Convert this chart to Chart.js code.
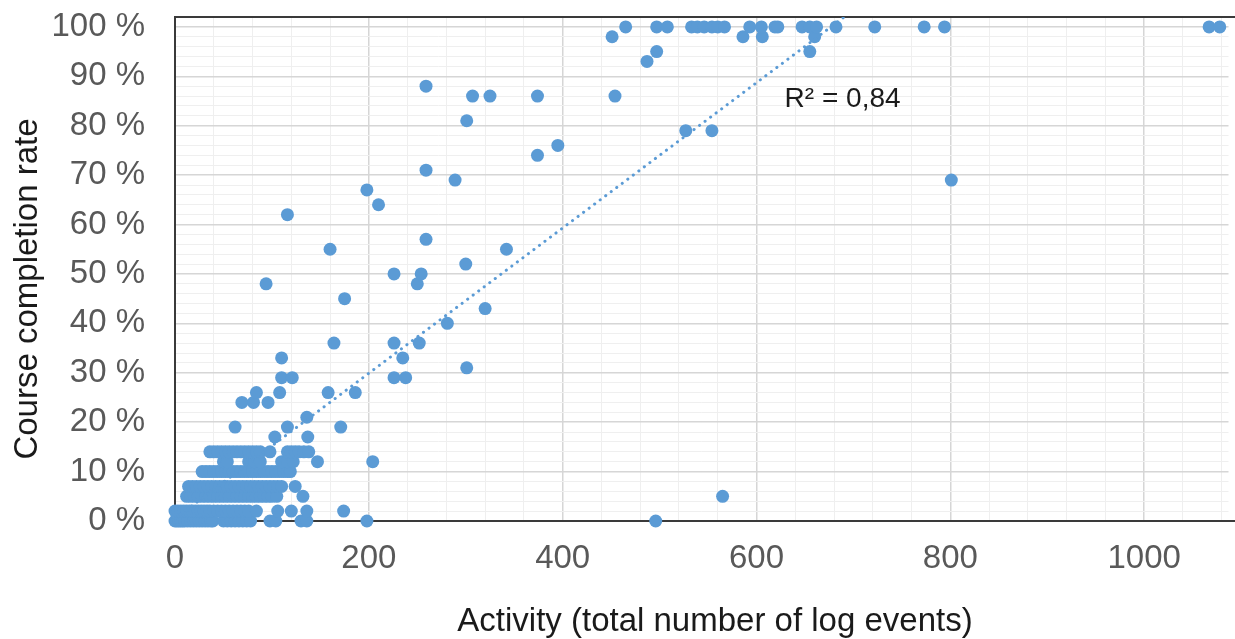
<!DOCTYPE html>
<html>
<head>
<meta charset="utf-8">
<script src="https://cdn.jsdelivr.net/npm/chart.js@4.4.1/dist/chart.umd.min.js"></script>
<style>
  html, body { margin: 0; padding: 0; background: #fff; }
  #wrap { width: 1235px; height: 639px; position: relative; }
</style>
</head>
<body>
<div id="wrap"><canvas id="chart"></canvas></div>
<script>
// completion rate (%) levels and the activity values seen on each level
const completionLevels = [0, 2, 5, 7, 10, 12, 14, 17, 19, 21, 24, 26, 29, 31, 33, 36, 40, 43, 45, 48, 50, 52, 55, 57, 62, 64, 67, 69, 71, 74, 76, 79, 81, 86, 88, 93, 95, 98, 100];
const activityAtLevel = [
    [0, 2, 4, 6, 8, 10, 13, 16, 19, 22, 25, 28, 31, 34, 37, 39, 50, 54, 58, 62, 66, 70, 74, 78, 98, 104, 130, 136, 198, 496],
    [0, 3, 6, 9, 12, 15, 18, 21, 24, 27, 30, 33, 36, 40, 44, 48, 52, 56, 60, 64, 68, 72, 76, 84, 106, 120, 136, 174],
    [12, 16, 20, 24, 28, 32, 36, 40, 44, 48, 52, 56, 60, 64, 68, 72, 76, 80, 84, 88, 92, 96, 100, 105, 132, 565],
    [14, 18, 22, 26, 30, 34, 38, 42, 46, 50, 54, 58, 62, 66, 70, 74, 78, 82, 86, 90, 94, 98, 102, 106, 110, 124],
    [28, 32, 36, 40, 44, 48, 52, 56, 60, 64, 68, 72, 76, 80, 84, 88, 92, 96, 100, 104, 108, 112, 116, 119],
    [50, 54, 76, 82, 88, 110, 116, 122, 147, 204],
    [36, 40, 44, 48, 52, 56, 60, 64, 68, 72, 76, 80, 84, 88, 98, 116, 120, 124, 128, 133, 138],
    [103, 137],
    [62, 116, 171],
    [136],
    [69, 81, 96],
    [84, 108, 158, 186],
    [110, 121, 226, 238],
    [301],
    [110, 235],
    [164, 226, 252],
    [281],
    [320],
    [175],
    [94, 250],
    [226, 254],
    [300],
    [160, 342],
    [259],
    [116],
    [210],
    [198],
    [289, 801],
    [259],
    [374],
    [395],
    [527, 554],
    [301],
    [307, 325, 374, 454],
    [259],
    [487],
    [497, 655],
    [451, 586, 606, 660],
    [465, 497, 508, 533, 539, 546, 554, 560, 567, 593, 605, 619, 622, 647, 655, 662, 682, 722, 773, 794, 1067, 1078]
];

// linear trendline
const trendIntercept = 0.5;
const trendSlope = 0.147;
const r2Text = 'R² = 0,84';

const xMin = 0, xMax = 1087, xMinorStep = 40, xLabelStep = 200;
const yMin = 0, yMax = 102, yMinorStep = 2, yLabelStep = 10;

const xTitle = 'Activity (total number of log events)';
const yTitle = 'Course completion rate';

const blue = '#5B9BD5';
const fontFamily = "'Liberation Sans', Arial, sans-serif";

const points = [];
completionLevels.forEach((level, i) => {
    activityAtLevel[i].forEach(x => points.push({ x, y: level }));
});

const trendEnd = (yMax - trendIntercept) / trendSlope;
const trendPoints = [0, trendEnd].map(x => ({ x, y: trendIntercept + trendSlope * x }));

function gridValues(min, max, step) {
    const vals = [];
    for (let v = min; v <= max; v += step) vals.push(v);
    return vals;
}

const frameAndText = {
    id: 'frameAndText',
    beforeDatasetsDraw(chart) {
        const { ctx, chartArea: a } = chart;
        ctx.save();
        ctx.strokeStyle = '#3a3a3a';
        ctx.lineWidth = 2;
        ctx.beginPath();
        ctx.moveTo(a.right + 8, a.top);
        ctx.lineTo(a.left, a.top);
        ctx.lineTo(a.left, a.bottom);
        ctx.lineTo(a.right + 8, a.bottom);
        ctx.stroke();
        ctx.restore();
    },
    afterDraw(chart) {
        const { ctx, scales } = chart;
        ctx.save();
        ctx.fillStyle = '#1a1a1a';
        ctx.font = `28px ${fontFamily}`;
        ctx.textAlign = 'left';
        ctx.textBaseline = 'middle';
        ctx.fillText(r2Text, scales.x.getPixelForValue(629), scales.y.getPixelForValue(85.4));

        ctx.font = `33px ${fontFamily}`;
        ctx.textAlign = 'center';
        ctx.fillText(xTitle, 715, 622);
        ctx.translate(28, 289);
        ctx.rotate(-Math.PI / 2);
        ctx.fillText(yTitle, 0, 0);
        ctx.restore();
    }
};

new Chart(document.getElementById('chart'), {
    type: 'scatter',
    data: {
        datasets: [
            {
                label: 'Trend',
                type: 'line',
                data: trendPoints,
                borderColor: blue,
                borderWidth: 3,
                borderDash: [0.1, 6.8],
                borderCapStyle: 'round',
                pointRadius: 0,
                fill: false,
                order: 0
            },
            {
                label: 'Courses',
                data: points,
                backgroundColor: blue,
                borderWidth: 0,
                pointRadius: 6.5,
                pointHoverRadius: 6.5,
                clip: false,
                order: 1
            }
        ]
    },
    options: {
        responsive: true,
        maintainAspectRatio: false,
        animation: false,
        layout: { padding: { top: 17, right: 0, bottom: 0, left: 0 } },
        plugins: { legend: { display: false }, tooltip: { enabled: false } },
        scales: {
            x: {
                type: 'linear',
                min: xMin,
                max: xMax,
                afterBuildTicks: axis => { axis.ticks = gridValues(xMin, 1080, xMinorStep).map(v => ({ value: v })); },
                afterFit: axis => {
                    axis.height = 118;
                    axis.paddingLeft = 0;
                    axis.paddingRight = 0;
                },
                border: { display: false },
                grid: {
                    drawTicks: false,
                    color: c => (c.tick && c.tick.value % xLabelStep === 0) ? '#d6d6d6' : '#efefef',
                    lineWidth: c => (c.tick && c.tick.value % xLabelStep === 0) ? 1.5 : 1
                },
                ticks: {
                    autoSkip: false,
                    maxRotation: 0,
                    padding: 18,
                    color: '#595959',
                    font: { family: fontFamily, size: 33 },
                    callback: v => v % xLabelStep === 0 ? String(v) : ''
                }
            },
            y: {
                type: 'linear',
                min: yMin,
                max: yMax,
                afterBuildTicks: axis => { axis.ticks = gridValues(yMin, 100, yMinorStep).map(v => ({ value: v })); },
                afterFit: axis => {
                    axis.width = 175;
                    axis.paddingTop = 0;
                    axis.paddingBottom = 0;
                },
                border: { display: false },
                grid: {
                    drawTicks: false,
                    color: c => (c.tick && c.tick.value % yLabelStep === 0) ? '#d6d6d6' : '#efefef',
                    lineWidth: c => (c.tick && c.tick.value % yLabelStep === 0) ? 1.5 : 1
                },
                ticks: {
                    autoSkip: false,
                    padding: 30,
                    color: '#595959',
                    font: { family: fontFamily, size: 33 },
                    callback: v => v % yLabelStep === 0 ? v + ' %' : ''
                }
            }
        }
    },
    plugins: [frameAndText]
});
</script>
</body>
</html>
